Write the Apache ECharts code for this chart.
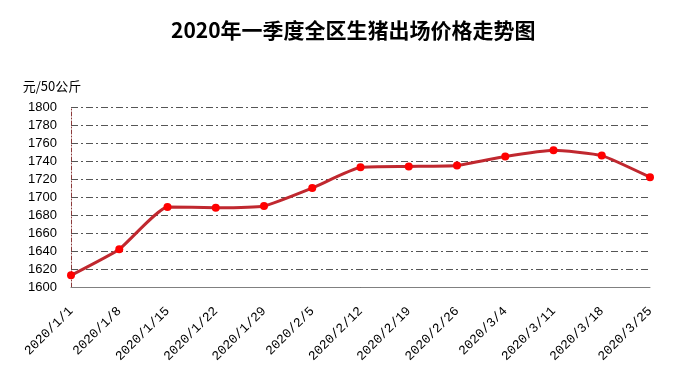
<!DOCTYPE html>
<html>
<head>
<meta charset="utf-8">
<script src="https://cdn.jsdelivr.net/npm/echarts@6/dist/echarts.min.js"></script>
<style>
html,body{margin:0;padding:0;background:#fff;}
#chart{width:692px;height:383px;}
</style>
</head>
<body>
<div id="chart"></div>
<script>
var titleText = '2020年一季度全区生猪出场价格走势图';
var unitName = '元/50公斤';
var categories = ['2020/1/1','2020/1/8','2020/1/15','2020/1/22','2020/1/29','2020/2/5','2020/2/12','2020/2/19','2020/2/26','2020/3/4','2020/3/11','2020/3/18','2020/3/25'];
var prices = [1613, 1642, 1689, 1688, 1690, 1710, 1733, 1734, 1735, 1745, 1752, 1746, 1722];
var yMin = 1600, yMax = 1800, yStep = 20;

var chart = echarts.init(document.getElementById('chart'));
chart.setOption({
  backgroundColor: '#ffffff',
  animation: false,
  title: {
    text: titleText,
    left: 166,
    top: 15,
    textStyle: { fontFamily: 'Noto Sans CJK SC', fontWeight: 'bold', fontSize: 21, color: '#000' }
  },
  grid: { left: 71, right: 42, top: 107, bottom: 96, containLabel: false },
  xAxis: {
    type: 'category',
    data: categories,
    boundaryGap: false,
    axisLine: { lineStyle: { color: '#808080', width: 1 } },
    axisTick: { show: false },
    axisLabel: {
      rotate: 45,
      margin: 22,
      interval: 0,
      fontFamily: 'Liberation Mono',
      fontSize: 13,
      color: '#000'
    }
  },
  yAxis: {
    type: 'value',
    min: yMin,
    max: yMax,
    interval: yStep,
    name: unitName,
    nameLocation: 'end',
    nameGap: 14,
    nameTextStyle: { fontFamily: 'Noto Sans CJK SC', fontSize: 13, color: '#000', align: 'center', padding: [0, 0, 0, -38] },
    axisLine: { show: true, lineStyle: { color: '#8B3A3A', type: [4, 2, 1, 2], width: 1 } },
    axisTick: { show: false },
    axisLabel: {
      fontFamily: 'Liberation Sans', fontSize: 13, color: '#000', margin: 14,
      formatter: function (v) { return String(v); }
    },
    splitLine: { show: true, lineStyle: { color: '#555', type: [7, 3, 2, 3], width: 1 } }
  },
  series: [{
    type: 'line',
    data: prices,
    smooth: 0.15,
    symbol: 'circle',
    symbolSize: 8,
    lineStyle: { color: '#C0282F', width: 3 },
    itemStyle: { color: '#FF0000' },
    z: 3
  }]
});
</script>
</body>
</html>
